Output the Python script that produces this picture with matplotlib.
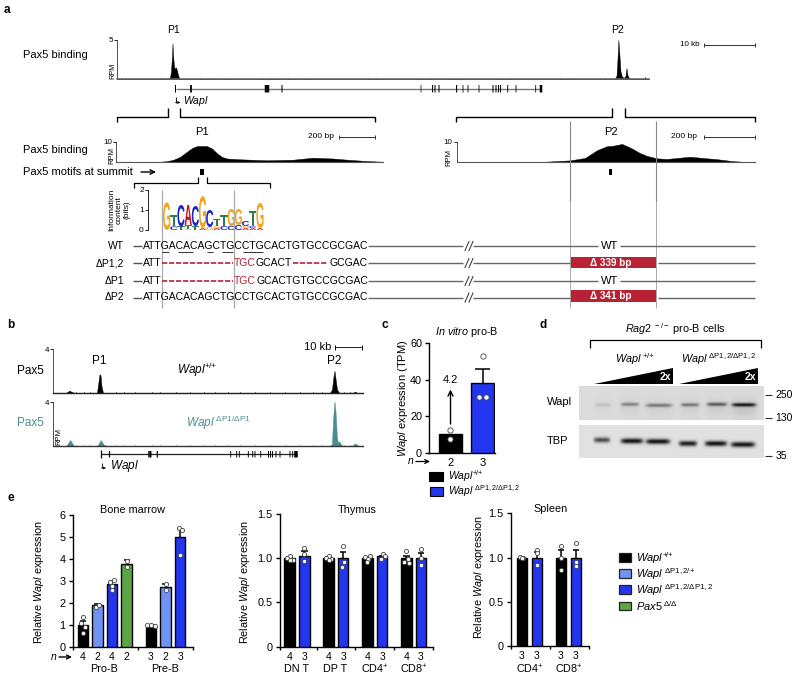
import numpy as np
import matplotlib
matplotlib.use('Agg')
import matplotlib.pyplot as plt
from matplotlib.patches import Rectangle, PathPatch, Polygon
from matplotlib.textpath import TextPath
from matplotlib.font_manager import FontProperties
from matplotlib.transforms import Affine2D

plt.rcParams['font.family'] = ['Liberation Sans', 'DejaVu Sans']
plt.rcParams['mathtext.fontset'] = 'custom'
plt.rcParams['mathtext.rm'] = 'Liberation Sans'
plt.rcParams['mathtext.it'] = 'Liberation Sans:italic'
plt.rcParams['mathtext.bf'] = 'Liberation Sans:bold'
plt.rcParams['axes.linewidth'] = 1.0

W, H = 800, 681
BLACK, LBLUE, BLUE, GREEN, TEAL, RED = '#000000', '#6F93F2', '#2236EE', '#5CA546', '#4A8C92', '#B82234'
PP = r'\mathrm{+\!/\!+}'
WAPL = r'$\mathit{Wapl}$'
WT_LBL = r'$\mathit{Wapl}^{' + PP + '}$'
HET_LBL = r'$\mathit{Wapl}^{\ \Delta\mathrm{P1,2/\!+}}$'
HOM_LBL = r'$\mathit{Wapl}^{\ \Delta\mathrm{P1,2/}\Delta\mathrm{P1,2}}$'
PAX_LBL = r'$\mathit{Pax5}^{\ \Delta/\Delta}$'

# ---- panel a, genome-wide Pax5 track (position, RPM)
a_wide_x = [117, 168, 170, 171, 172, 172.5, 173, 174, 175, 176, 177, 178, 179, 180, 612, 615, 616.5, 617.5, 618.4, 619.5, 620.5, 622, 624, 625.5, 626.5, 627.5, 629, 631, 649]
a_wide_y = [0, 0.05, 0.2, 1.0, 3.0, 4.6, 3.2, 1.6, 1.3, 1.5, 1.1, 0.5, 0.2, 0, 0, 0.1, 0.4, 2.6, 5.0, 3.0, 1.0, 0.3, 0.15, 0.4, 1.4, 0.5, 0.1, 0.05, 0]
a_blips_x = [122, 126, 130, 148, 154, 160, 164, 200, 213, 222, 228, 250, 262, 270, 276, 288, 305, 358, 368, 376, 420, 430, 440, 452, 460, 486, 500, 510, 522, 560, 570, 582, 600, 606, 645]
a_blips_y = [.08, .1, .06, .07, .1, .15, .12, .08, .1, .06, .08, .06, .1, .08, .1, .08, .12, .06, .08, .1, .1, .08, .06, .1, .12, .06, .08, .1, .06, .08, .1, .06, .1, .12, .2]
# gene models
a_exons_x = [175.5, 191, 267, 282, 421, 432.6, 435, 439, 456.6, 463, 468, 479, 493, 496, 498.5, 500.5, 507.7, 516, 535.7, 541]
a_exons_w = [1, 1.8, 4.5, 1, .7, 1, 1, 1, 1.1, .8, .8, .8, 1, 1, 1, 1, .9, .8, .8, 2.5]
# ---- panel a, zoom tracks (position, RPM)
p1_x = [116, 160, 166, 173, 180, 187, 192, 197, 202, 207, 212, 217, 222, 227, 240, 267, 293, 305, 313, 322, 333, 345, 353, 365, 377, 383]
p1_y = [0, 0, .2, .9, 2.4, 5.0, 6.8, 7.8, 7.9, 7.8, 6.6, 4.2, 2.4, 1.6, 1.2, .7, 1.0, 1.6, 2.0, 1.8, 1.6, 1.1, .8, .4, .1, 0]
p2_x = [456.7, 487, 540, 570, 585, 597, 607, 613, 622, 628, 633, 640, 647, 657, 667, 690, 705, 717, 733, 748, 755]
p2_y = [0, 0, 0, .8, 2.0, 5.8, 7.8, 8.0, 8.9, 7.6, 6.4, 4.4, 3.0, 1.8, 1.5, 2.6, 1.9, 1.4, .4, 0, 0]
# ---- motif logo: per position, bottom-up (letter, bits)
logo_stacks = [
    [('G', 1.38)], [('C', .18), ('T', .55)], [('T', .18), ('C', 1.07)], [('G', .05), ('T', .2), ('A', 1.0)],
    [('T', .2), ('C', 1.0)], [('A', .1), ('G', 1.6)], [('G', .15), ('C', .85)], [('A', .1), ('G', .1), ('T', .35)],
    [('C', .2), ('T', .55)], [('C', .2), ('G', .85)], [('C', .25), ('G', .8)], [('A', .1), ('G', .1), ('C', .25)],
    [('A', .1), ('C', .1), ('T', .75)], [('A', .1), ('G', 1.25)]]
logo_col = {'A': '#C8141E', 'C': '#1A1FCC', 'G': '#F0A51E', 'T': '#2E7D4A'}
# ---- panel b tracks
b_wt_x = [53.3, 66, 68, 69.5, 71, 74, 97, 98.5, 99.5, 100.5, 101.5, 103, 330, 332, 333.5, 334.5, 335.5, 337, 339, 353, 355, 357, 363]
b_wt_y = [0, 0, .1, .2, .1, 0, 0, 1.0, 1.7, 1.6, .6, 0, 0, .3, 1.5, 2.0, 1.3, .3, 0, 0, .1, 0, 0]
b_ko_x = [53.3, 66, 68, 70, 72, 74, 97, 99, 100.5, 102, 104, 108, 330, 332, 333, 334.5, 335.5, 337, 338, 339.5, 341, 343, 352, 355, 358, 363]
b_ko_y = [0, 0, .25, .55, .3, 0, 0, .25, .55, .35, .1, 0, 0, .2, 2.4, 4.1, 3.2, .7, .35, .4, .15, 0, 0, .25, .05, 0]
b_blip_x = [76, 84, 90, 116, 124, 135, 152, 160, 176, 190, 204, 215, 228, 240, 255, 270, 285, 300, 313, 322, 344, 350]
b_blip_y = [.05, .07, .05, .06, .05, .07, .06, .05, .07, .05, .06, .07, .05, .06, .05, .07, .05, .06, .05, .07, .06, .05]
b_exons_x = [109.5, 149, 150.7, 157.3, 230.7, 236.7, 239.3, 248.3, 252.7, 255, 260.7, 268.5, 270.5, 272.5, 276, 280, 290, 292.7, 296]
b_exons_w = [1.2, 1.5, 1.5, 1.2, .9, .9, .9, .9, .9, .9, .9, 1, 1, 1, .9, .9, .9, .9, 3.5]
# ---- panel c
c_vals = [10, 38]
c_errs = [0, 45.7]
c_n = ['2', '3']
c_points = [[12.4, 7.3], [52.9, 30.6, 30.6]]
c_jitter = [[0, 0], [0, -.115, .115]]
# ---- panel d blot bands (lane x, y, intensity, width)
w_lane = [603, 630, 659, 690, 717, 744]
w_int = [.12, .42, .48, .48, .62, 1.0]
w_wid = [8, 9, 13, 9, 10, 12]
t_lane = [602, 632, 658, 688, 716, 743]
t_y = [440.5, 441.5, 442, 444, 444, 445]
t_int = [.72, 1.0, 1.0, .95, 1.0, 1.0]
t_wid = [8, 11, 12, 9, 11, 12]
# ---- panel e
bm_vals = [1.0, 1.9, 2.85, 3.8, 1.0, 2.75, 5.0]
bm_cols = [BLACK, LBLUE, BLUE, GREEN, BLACK, LBLUE, BLUE]
bm_tops = [1.18, 1.95, 3.0, 3.95, 1.03, 2.88, 5.37]
bm_n = ['4', '2', '4', '2', '3', '2', '3']
bm_pts = [[1.36, 1.09, .9, .63], [1.85, 1.92], [3.05, 2.97, 2.8, 2.6], [3.93, 3.65], [1.02, 1.0, .98], [2.85, 2.6], [5.39, 5.32, 4.2]]
bm_jit = [[0, -.15, .12, 0], [-.12, .12], [.12, -.12, .02, 0], [0, 0], [-.25, 0, .25], [0, 0], [-.1, .12, 0]]
th_vals = [1.0, 1.03, 1.0, 1.0, 1.0, 1.02, 1.0, 1.0]
th_tops = [1.01, 1.08, 1.01, 1.07, 1.01, 1.03, 1.03, 1.06]
th_n = ['4', '3'] * 4
th_pts = [[1.03, 1.0, .98, .98], [1.12, 1.05, .97], [1.02, 1.0, .99, .98], [1.14, .96, .9],
          [1.02, 1.01, .99, .96], [1.05, 1.03, .99], [1.08, .99, .95, .96], [1.1, 1.0, .92]]
th_jit = [[0, -.2, .2, 0], [0, 0, 0], [0, -.2, .2, 0], [0, .05, -.1], [.2, -.2, .05, 0], [.05, .2, -.1], [0, .1, .15, -.15], [0, 0, 0]]
sp_vals = [1.0, 1.0, 1.0, 1.0]
sp_tops = [1.01, 1.06, 1.08, 1.09]
sp_n = ['3', '3', '3', '3']
sp_pts = [[1.01, 1.0, .99], [1.08, 1.05, .92], [1.13, 1.0, .86], [1.16, .95, .9]]
sp_jit = [[-.1, .1, 0], [0, 0, 0], [0, 0, 0], [0, 0, 0]]


fig = plt.figure(figsize=(W / 100, H / 100), dpi=100)

def mk(x0, ytop, x1, ybot, **kw):
    return fig.add_axes([x0 / W, 1 - ybot / H, (x1 - x0) / W, (ybot - ytop) / H], **kw)

ov = mk(0, 0, W, H, zorder=20)
ov.set_xlim(0, W); ov.set_ylim(H, 0); ov.axis('off'); ov.patch.set_alpha(0)

def T(x, y, s, ha='left', va='center', size=7.8, **kw):
    return ov.text(x, y, s, ha=ha, va=va, fontsize=size, **kw)

def L(xs, ys, c='k', lw=0.9, **kw):
    ov.plot(xs, ys, color=c, lw=lw, solid_capstyle='butt', **kw)

def arrow(x0, y0, x1, y1, lw=1.0, ms=8):
    ov.annotate('', xy=(x1, y1), xytext=(x0, y0),
                arrowprops=dict(arrowstyle='->', lw=lw, color='k', shrinkA=0, shrinkB=0, mutation_scale=ms))

def exons(xs, ws, y0, y1):
    for x, w in zip(xs, ws):
        ov.plot([x, x], [y0, y1], color='k', lw=w * .72, solid_capstyle='butt', snap=False)

for s, x, y in [('a', 7, 10), ('b', 11, 325), ('c', 385, 325), ('d', 543, 325), ('e', 11, 498)]:
    T(x, y, s, ha='center', size=8.5, fontweight='bold')

def track(x0, ytop, x1, ybot, xs, ys, color, ymax, tick, blips=None, baselw=.8, basec='#555555'):
    ax = mk(x0, ytop, x1, ybot, zorder=5)
    ax.fill_between(xs, 0, ys, color=color, lw=.3)
    if blips is not None:
        ax.vlines(blips[0], 0, blips[1], color=color, lw=.7)
    ax.set_xlim(x0, x1); ax.set_ylim(0, ymax)
    ax.patch.set_alpha(0)
    for sp in ['top', 'right']:
        ax.spines[sp].set_visible(False)
    ax.spines['left'].set_linewidth(.6); ax.spines['left'].set_color('#333333')
    ax.spines['bottom'].set_linewidth(baselw); ax.spines['bottom'].set_color(basec)
    ax.set_xticks([]); ax.set_yticks([tick]); ax.set_yticklabels([str(tick)], fontsize=5.8)
    ax.tick_params(axis='y', length=2, width=.6, pad=1)
    return ax

# ---------------- panel a -----------------
track(117, 40, 649, 79, a_wide_x, a_wide_y, 'k', 5, 5, (a_blips_x, a_blips_y), baselw=1.1, basec='#666666')
T(173.5, 30, 'P1', ha='center', size=7.5); T(618, 30, 'P2', ha='center', size=7.5)
T(23, 55, 'Pax5 binding', size=8)
T(113, 71, 'RPM', ha='center', size=5.2, rotation=90)
L([704, 755], [45, 45], lw=.7, c='#333333')
for x in (704, 755):
    L([x, x], [43, 47], lw=.7, c='#333333')
T(700, 45, '10 kb', ha='right', size=5.8)
L([175.5, 541], [88.7, 88.7], c='#777777', lw=1.0)
exons(a_exons_x, a_exons_w, 85, 92.5)
L([175.5, 175.5], [97, 102.5], lw=.6); arrow(175.5, 102.5, 180.5, 102.5, lw=.6, ms=3.5)
T(183, 101.5, WAPL, size=7.5)
# brackets
for xs, ys in [([117, 117, 168, 168], [122, 116.5, 116.5, 108]),
               ([180, 180, 375, 375], [108, 116.5, 116.5, 122]),
               ([455.6, 455.6, 612, 612], [122, 116.5, 116.5, 108]),
               ([625, 625, 755, 755], [108, 116.5, 116.5, 122])]:
    L(xs, ys, lw=1.0)

track(116, 141.7, 383, 161.7, p1_x, p1_y, 'k', 10, 10)
track(456.7, 141.7, 755, 162, p2_x, p2_y, 'k', 10, 10)
T(202, 132, 'P1', ha='center', size=8); T(610.7, 132, 'P2', ha='center', size=8)
T(111.5, 156, 'RPM', ha='center', size=5.5, rotation=90)
T(449, 157, 'RPM', ha='center', size=5.5, rotation=90)
T(23, 150, 'Pax5 binding', size=8); T(23, 172, 'Pax5 motifs at summit', size=8)
for a, b, tx in [(339, 375, 334), (704, 755, 696.7)]:
    L([a, b], [137, 137], lw=.7, c='#333333')
    L([a, a], [135, 139], lw=.7, c='#333333'); L([b, b], [135, 139], lw=.7, c='#333333')
    T(tx, 136.5, '200 bp', ha='right', size=6)
arrow(141, 172, 156, 172, lw=1.0, ms=8)
ov.add_patch(Rectangle((200, 169), 3.5, 6, color='k', lw=0))
ov.add_patch(Rectangle((608.7, 169), 3.5, 6, color='k', lw=0))
L([134, 134, 198, 198], [188, 183, 183, 177], lw=.9)
L([207, 207, 270, 270], [177, 183, 183, 188], lw=.9)
# gray guide lines
for x in (162, 234):
    L([x, x], [190, 307.7], c='#AAAAAA', lw=.9)
for x in (569.7, 656.3):
    L([x, x], [120.7, 201.7], c='#888888', lw=.8)
    L([x, x], [201.7, 307.7], c='#AAAAAA', lw=.7)

# logo
lg = mk(148, 190, 265, 230, zorder=6)
lg.set_xlim(-2.6, 13.7); lg.set_ylim(0, 2); lg.patch.set_alpha(0)
for sp in ['top', 'right', 'bottom']:
    lg.spines[sp].set_visible(False)
lg.spines['left'].set_linewidth(.6)
lg.set_xticks([]); lg.set_yticks([0, 1, 2]); lg.tick_params(axis='y', labelsize=6, length=2, width=.6, pad=1)
fp = FontProperties(family='Liberation Sans', weight='bold')
for i, st in enumerate(logo_stacks):
    b = 0
    for ch, h in st:
        tp = TextPath((0, 0), ch, size=1, prop=fp)
        e = tp.get_extents()
        tr = Affine2D().translate(-e.x0, -e.y0).scale(1.0 / e.width, h / e.height).translate(i - .5, b)
        lg.add_patch(PathPatch(tp, transform=tr + lg.transData, color=logo_col[ch], lw=0))
        b += h
T(119.5, 210, 'Information\ncontent\n(bits)', ha='center', size=6, rotation=90, linespacing=1.05)

# sequence rows
rows_y = [246, 263, 281, 297.5]
for y, s in zip(rows_y, ['WT', '\u0394P1,2', '\u0394P1', '\u0394P2']):
    T(124, y, s, ha='right', size=7.5)
    L([133, 142], [y, y], c='#555555', lw=1.0)
    L([368, 463], [y, y], c='#666666', lw=1.0)
    ov.plot([465, 469], [y + 4.5, y - 4.5], c='#444444', lw=.8)
    ov.plot([469, 473], [y + 4.5, y - 4.5], c='#444444', lw=.8)
SF = 7.45
T(143, 246, 'ATTGACACAGCTGCCTGCACTGTGCCGCGAC', size=SF)
T(143, 297.5, 'ATTGACACAGCTGCCTGCACTGTGCCGCGAC', size=SF)
T(143, 263, 'ATT', size=SF); T(234, 263, 'TGC', size=SF, color=RED)
T(256, 263, 'GCACT', size=SF); T(329, 263, 'GCGAC', size=SF)
T(143, 281, 'ATT', size=SF); T(234, 281, 'TGC', size=SF, color=RED)
T(256.5, 281, 'GCACTGTGCCGCGAC', size=SF)
for a, b, y in [(162, 233, 262.5), (293, 328, 262.5), (162, 233, 280.5)]:
    ov.plot([a, b], [y, y], color=RED, lw=1.2, ls=(0, (3.2, 1.0)))
for a, b in [(162, 169), (178, 193), (207, 213), (222, 233), (243, 263)]:
    L([a, b], [251.5, 251.5], lw=.7, c='#333333')
# right side
L([473, 598], [246, 246], c='#666666', lw=1.0); L([620, 755], [246, 246], c='#666666', lw=1.0)
L([473, 598], [281, 281], c='#666666', lw=1.0); L([620, 755], [281, 281], c='#666666', lw=1.0)
T(609.5, 246, 'WT', ha='center', size=8); T(609.5, 281, 'WT', ha='center', size=8)
for y, (rt, rb), txt in [(263, (256.7, 268.3), '\u0394 339 bp'), (297.5, (290, 301.7), '\u0394 341 bp')]:
    L([473, 570], [y, y], c='#666666', lw=1.0); L([658, 755], [y, y], c='#666666', lw=1.0)
    ov.add_patch(Rectangle((570, rt), 86, rb - rt, color=RED, lw=0))
    T(611, (rt + rb) / 2, txt, ha='center', size=7.2, color='white', fontweight='bold')

# ---------------- panel b -----------------
track(53.3, 349, 363.3, 392.7, b_wt_x, b_wt_y, 'k', 4, 4, (b_blip_x, b_blip_y), baselw=1.0, basec='#222222')
track(53.3, 402.3, 363.3, 446, b_ko_x, b_ko_y, TEAL, 4, 4, (b_blip_x, b_blip_y), baselw=1.0, basec='#333333')
T(16.5, 370.5, 'Pax5', size=8.5); T(16.5, 423, 'Pax5', size=8.5, color=TEAL)
T(99.5, 361.5, 'P1', ha='center', size=8.5); T(334, 361.5, 'P2', ha='center', size=8.5)
T(177, 370, WT_LBL, size=8.5)
T(186.5, 423, r'$\mathit{Wapl}^{\ \Delta\mathrm{P1/}\Delta\mathrm{P1}}$', size=8.5, color=TEAL)
L([335, 362], [347.3, 347.3], lw=.7, c='#222222')
L([335, 335], [345, 349.5], lw=.7); L([362, 362], [345, 349.5], lw=.7)
T(331, 347, '10 kb', ha='right', size=8)
T(59, 436.5, 'RPM', ha='center', size=5.5, rotation=90)
L([101, 297], [454, 454], c='#222222', lw=.9)
exons(b_exons_x, b_exons_w, 451, 457.5)
L([101, 101], [450, 458], lw=.9)
L([101.5, 101.5], [463, 468], lw=.6); arrow(101.5, 468, 106, 468, lw=.6, ms=3.5)
T(110, 466, WAPL, size=8.5)

# ---------------- bars -----------------
def dots(ax, xs, pts, jit, ms=3.2):
    for x, p, j in zip(xs, pts, jit):
        ax.plot(np.array(j) + x, p, 'o', mfc='white', mec='#444444', mew=.6, ms=ms, ls='none', zorder=6, clip_on=False)

def bars(rect, xlim, ylim, yt, ytl, xs, vals, cols, tops, pts, jit, seps, ns, width=.72, ms=3.0, nsize=7.5):
    ax = mk(*rect, zorder=4)
    ax.bar(xs, vals, width=width, color=cols, edgecolor='k', lw=1.0, zorder=3)
    for x, v, t in zip(xs, vals, tops):
        if t > v:
            ax.plot([x, x], [v, t], color='k', lw=1.1, zorder=4, solid_capstyle='butt')
            ax.plot([x - .22, x + .22], [t, t], color='k', lw=1.1, zorder=4, solid_capstyle='butt')
    dots(ax, xs, pts, jit, ms)
    ax.set_xlim(*xlim); ax.set_ylim(*ylim)
    ax.spines['top'].set_visible(False); ax.spines['right'].set_visible(False)
    ax.set_yticks(yt); ax.set_yticklabels(ytl, fontsize=7.8)
    ax.tick_params(axis='y', length=3.2, width=1.0, pad=2)
    ax.set_xticks(seps); ax.set_xticklabels([])
    ax.tick_params(axis='x', which='major', length=2.5, width=1.0)
    ax.set_xticks(xs, minor=True); ax.set_xticklabels(ns, minor=True, fontsize=nsize)
    ax.tick_params(axis='x', which='minor', length=0, pad=3.5)
    ax.patch.set_alpha(0)
    return ax

# panel c
bars((429.3, 343.3, 495, 452.7), (-.66, 1.39), (0, 60), [0, 20, 40, 60], ['0', '20', '40', '60'],
     [0, 1], c_vals, [BLACK, BLUE], c_errs, c_points, c_jitter, [], c_n, width=.69, ms=3.8, nsize=8)
T(466.5, 332, r'$\mathit{In\ vitro}$ pro-B', ha='center', size=7.8)
T(403, 398, r'$\mathit{Wapl}$ expression (TPM)', ha='center', size=8, rotation=90)
T(411, 461.5, r'$\mathit{n}$', ha='center', size=7.5)
arrow(416, 461.5, 430, 461.5, lw=.9, ms=7)
arrow(450.5, 424, 450.5, 389.5, lw=1.0, ms=9)
T(450.5, 380, '4.2', ha='center', size=8)
ov.add_patch(Rectangle((429.3, 472), 13.4, 8.7, fc='k', ec='k', lw=.8))
ov.add_patch(Rectangle((429.8, 487), 12.9, 8.7, fc=BLUE, ec='k', lw=.8))
T(448, 476, WT_LBL, size=7.5); T(448, 491, HOM_LBL, size=7.5)

# panel d
T(675, 329, r'$\mathit{Rag2}^{\ -/-}$ pro-B cells', ha='center', size=7.8)
L([590, 590, 760.7, 760.7], [348, 340, 340, 348], lw=.9)
T(615, 359, r'$\mathit{Wapl}^{\ ' + PP + '}$', size=7.8)
T(681, 359, HOM_LBL, size=7.8)
for a, b in [(594, 672.7), (679, 757.7)]:
    ov.add_patch(Polygon([(a, 384.3), (b, 384.3), (b, 368.3)], closed=True, color='k', lw=0))
    T(b - 1.5, 377.5, '2x', ha='right', size=7.5, color='white', fontweight='bold')

def blot(ytop, ybot, lanes, ys, ints, wids, sig, bg, extra=None):
    xg = np.arange(579.3, 764, .5)
    yg = np.arange(ytop, ybot, .5)
    X, Y = np.meshgrid(xg, yg)
    im = np.full(X.shape, bg, float)
    for lx, ly, a, w in zip(lanes, ys, ints, wids):
        band = np.exp(-((X - lx) / w) ** 6) * np.exp(-((Y - ly) / sig) ** 2)
        im *= 1 - a * band * .92
        if extra:
            im *= 1 - a * extra * np.exp(-((X - lx) / (w * 1.1)) ** 4) * np.exp(-((Y - ly - 3) / 9.0) ** 2)
    ax = mk(579.3, ytop, 764, ybot, zorder=3)
    ax.imshow(im, cmap='gray', vmin=0, vmax=1, aspect='auto', extent=(579.3, 764, ybot, ytop), interpolation='bilinear')
    ax.axis('off')

blot(385.7, 420, w_lane, [405, 404.5, 405.5, 405, 404.5, 405], w_int, w_wid, 1.8, .86, extra=.1)
blot(425, 458.3, t_lane, t_y, t_int, t_wid, 2.6, .88)
T(547, 402, 'Wapl', size=8); T(547, 441, 'TBP', size=8)
for y, s in [(395, '250'), (418, '130'), (455.7, '35')]:
    L([765, 771.7], [y, y], lw=.8, c='#333333')
    T(775.5, y, s, size=7.5)

# panel e
bm_x = [0, 1, 2, 3, 4.66, 5.66, 6.66]
bars((72.7, 515, 192.7, 647.3), (-.7, 7.52), (0, 6), range(7), [str(i) for i in range(7)],
     bm_x, bm_vals, bm_cols, bm_tops, bm_pts, bm_jit, [-.7, 3.8, 7.52], bm_n)
T(132.7, 510, 'Bone marrow', ha='center')
T(39, 581.5, r'Relative $\mathit{Wapl}$ expression', ha='center', rotation=90)
T(54, 657, r'$\mathit{n}$', ha='center', size=7.5)
arrow(59, 657, 72, 657, lw=1.0, ms=7)
T(104, 669.5, 'Pro-B', ha='center'); T(165, 669.5, 'Pre-B', ha='center')

ytl15 = ['0', '0.5', '1.0', '1.5']
th_x = [g * 2.66 + k for g in range(4) for k in (0, 1)]
bars((280, 514, 433.3, 646.7), (-.66, 9.82), (0, 1.5), [0, .5, 1, 1.5], ytl15,
     th_x, th_vals, [BLACK, BLUE] * 4, th_tops, th_pts, th_jit, [-.66, 1.84, 4.5, 7.16, 9.82], th_n)
T(357, 510, 'Thymus', ha='center')
T(244.5, 581.5, r'Relative $\mathit{Wapl}$ expression', ha='center', rotation=90)
for x, s in [(296.5, 'DN T'), (335.5, 'DP T'), (375, r'CD4$^{+}$'), (413.5, r'CD8$^{+}$')]:
    T(x, 669.5, s, ha='center')

sp_x = [0, 1, 2.6, 3.6]
bars((511, 513.3, 589.3, 646), (-.73, 4.49), (0, 1.5), [0, .5, 1, 1.5], ytl15,
     sp_x, sp_vals, [BLACK, BLUE] * 2, sp_tops, sp_pts, sp_jit, [-.73, 1.87, 4.49], sp_n)
T(551, 509.5, 'Spleen', ha='center')
T(479, 576.5, r'Relative $\mathit{Wapl}$ expression', ha='center', rotation=90)
T(530, 669.5, r'CD4$^{+}$', ha='center'); T(568.7, 669.5, r'CD8$^{+}$', ha='center')

for y, c, s in [(553.3, BLACK, WT_LBL), (569.3, LBLUE, HET_LBL), (585.3, BLUE, HOM_LBL), (601.5, GREEN, PAX_LBL)]:
    ov.add_patch(Rectangle((618.5, y), 12.5, 8.7, fc=c, ec='#222222', lw=.9))
    T(635.5, y + 4.5, s, size=8)

fig.savefig('out.png', dpi=100)
